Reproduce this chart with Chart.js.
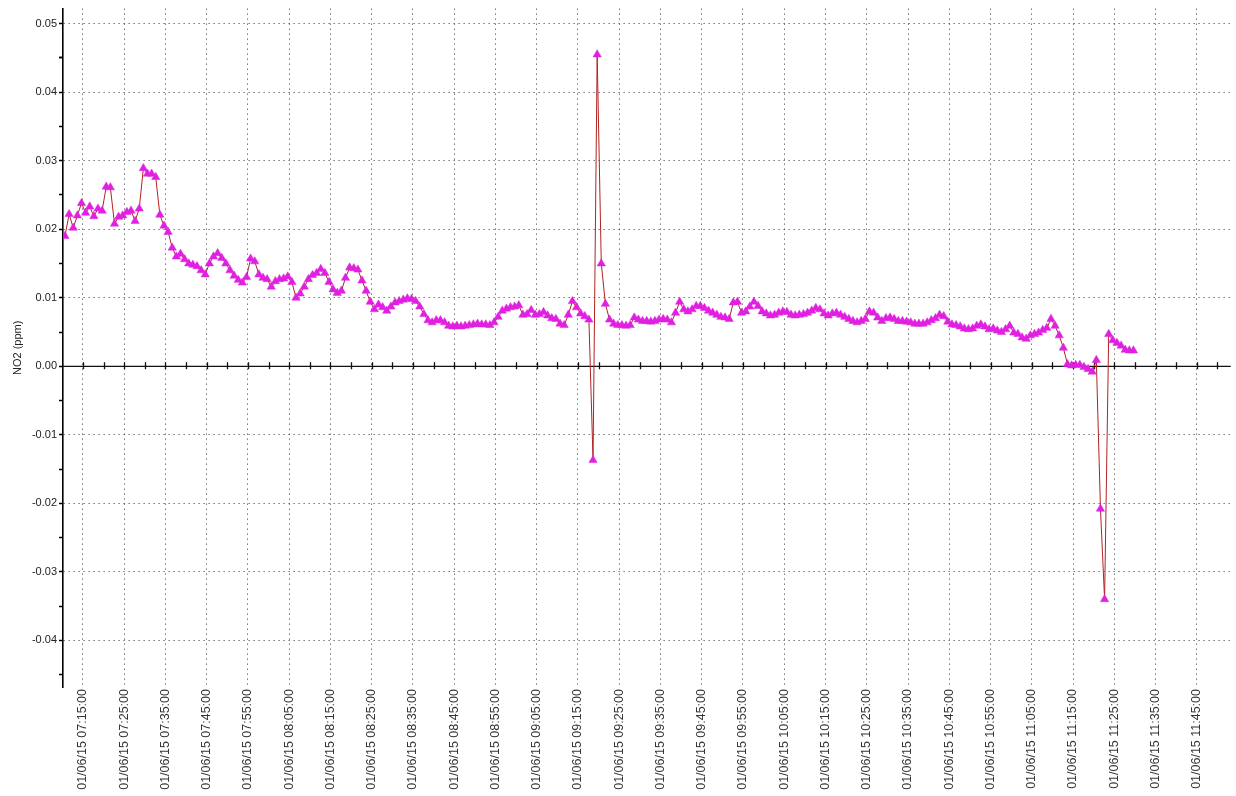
<!DOCTYPE html>
<html>
<head>
<meta charset="utf-8">
<title>NO2 (ppm)</title>
<script src="https://cdn.jsdelivr.net/npm/chart.js@4.4.1/dist/chart.umd.min.js"></script>
<style>
  html, body { margin: 0; padding: 0; background: #fff; }
  #wrap { width: 1236px; height: 796px; }
</style>
</head>
<body>
<div id="wrap"><canvas id="myChart" width="1236" height="796"></canvas></div>
<script>
// recording date + axis labels
const dateLabel = "01/06/15";
const xTickLabels = [
  "07:15", "07:25", "07:35", "07:45", "07:55", "08:05", "08:15", "08:25", "08:35",
  "08:45", "08:55", "09:05", "09:15", "09:25", "09:35", "09:45", "09:55", "10:05",
  "10:15", "10:25", "10:35", "10:45", "10:55", "11:05", "11:15", "11:25", "11:35", "11:45",
];
const yTickLabels = ["-0.04", "-0.03", "-0.02", "-0.01", "0.00", "0.01", "0.02", "0.03", "0.04", "0.05"];

// samples: first reading 07:10:39, one reading per minute
const firstSample = "07:10:39";
const sampleMinutes = 1;

// NO2 readings (ppm)
const no2 = [
  0.0190, 0.0222, 0.0202, 0.0220, 0.0238, 0.0224, 0.0233, 0.0219, 0.0230, 0.0227,
  0.0262, 0.0261, 0.0208, 0.0218, 0.0220, 0.0225, 0.0227, 0.0212, 0.0230, 0.0289,
  0.0281, 0.0281, 0.0276, 0.0221, 0.0205, 0.0196, 0.0173, 0.0160, 0.0164, 0.0156,
  0.0150, 0.0148, 0.0146, 0.0140, 0.0134, 0.0150, 0.0160, 0.0165, 0.0158, 0.0150,
  0.0140, 0.0132, 0.0126, 0.0122, 0.0130, 0.0157, 0.0153, 0.0134, 0.0129, 0.0127,
  0.0116, 0.0124, 0.0127, 0.0128, 0.0131, 0.0123, 0.0100, 0.0106, 0.0116, 0.0127,
  0.0133, 0.0136, 0.0142, 0.0136, 0.0123, 0.0112, 0.0107, 0.0110, 0.0129, 0.0144,
  0.0143, 0.0141, 0.0125, 0.0110, 0.0094, 0.0083, 0.0090, 0.0086, 0.0081, 0.0087,
  0.0093, 0.0095, 0.0097, 0.0099, 0.0098, 0.0095, 0.0087, 0.0076, 0.0067, 0.0064,
  0.0067, 0.0067, 0.0064, 0.0059, 0.0058, 0.0059, 0.0058, 0.0059, 0.0060, 0.0061,
  0.0062, 0.0061, 0.0061, 0.0060, 0.0064, 0.0072, 0.0081, 0.0084, 0.0086, 0.0087,
  0.0089, 0.0075, 0.0076, 0.0082, 0.0075, 0.0076, 0.0079, 0.0074, 0.0070, 0.0069,
  0.0062, 0.0060, 0.0075, 0.0095, 0.0086, 0.0077, 0.0073, 0.0068, -0.0137, 0.0455,
  0.0150, 0.0091, 0.0068, 0.0062, 0.0060, 0.0060, 0.0059, 0.0060, 0.0071, 0.0068,
  0.0066, 0.0066, 0.0065, 0.0066, 0.0068, 0.0069, 0.0068, 0.0064, 0.0078, 0.0094,
  0.0083, 0.0080, 0.0083, 0.0088, 0.0088, 0.0085, 0.0081, 0.0078, 0.0075, 0.0072,
  0.0071, 0.0069, 0.0093, 0.0094, 0.0078, 0.0080, 0.0087, 0.0094, 0.0088, 0.0080,
  0.0077, 0.0074, 0.0075, 0.0078, 0.0080, 0.0079, 0.0075, 0.0074, 0.0075, 0.0076,
  0.0078, 0.0081, 0.0085, 0.0083, 0.0077, 0.0074, 0.0077, 0.0078, 0.0075, 0.0072,
  0.0069, 0.0066, 0.0064, 0.0066, 0.0069, 0.0080, 0.0078, 0.0071, 0.0066, 0.0070,
  0.0071, 0.0069, 0.0066, 0.0066, 0.0065, 0.0064, 0.0062, 0.0062, 0.0062, 0.0064,
  0.0067, 0.0070, 0.0075, 0.0073, 0.0065, 0.0061, 0.0060, 0.0058, 0.0055, 0.0054,
  0.0055, 0.0059, 0.0061, 0.0058, 0.0054, 0.0055, 0.0052, 0.0050, 0.0054, 0.0059,
  0.0049, 0.0047, 0.0042, 0.0040, 0.0045, 0.0047, 0.0049, 0.0053, 0.0056, 0.0069,
  0.0059, 0.0045, 0.0027, 0.0003, 0.0001, 0.0002, 0.0002, -0.0001, -0.0004, -0.0008,
  0.0009, -0.0208, -0.0340, 0.0047, 0.0038, 0.0034, 0.0030, 0.0024, 0.0023, 0.0023,
];

function toMinutes(hhmm) {
  var p = hhmm.split(":").map(Number);
  return p[0] * 60 + p[1] + (p[2] || 0) / 60;
}

const start = toMinutes(firstSample);
const points = no2.map((v, i) => ({ x: start + i * sampleMinutes, y: v }));
const xTickValues = xTickLabels.map(toMinutes);
const yTickValues = yTickLabels.map(Number);

// half-way ticks (5 min / 0.005 ppm) without labels
const xMinor = [];
xTickValues.forEach((t) => { xMinor.push(t, t + 5); });
const yAll = [];
yTickValues.forEach((v) => { yAll.push(Math.round((v - 0.005) * 1000) / 1000, v); });
yAll.push(0.045);

function isMajor(v) {
  return Math.abs(v * 100 - Math.round(v * 100)) < 1e-6;
}

// horizontal axis drawn through zero, with a tick every 5 minutes
const zeroAxis = {
  id: "zeroAxis",
  beforeDatasetsDraw(chart) {
    const { ctx, chartArea, scales } = chart;
    const y0 = scales.y.getPixelForValue(0);
    ctx.save();
    ctx.strokeStyle = "#111";
    ctx.lineWidth = 1.3;
    ctx.beginPath();
    ctx.moveTo(chartArea.left, y0);
    ctx.lineTo(chartArea.right, y0);
    xMinor.forEach((t) => {
      const px = Math.round(scales.x.getPixelForValue(t)) + 0.5;
      if (px > chartArea.right) return;
      ctx.moveTo(px, y0 - 4);
      ctx.lineTo(px, y0 + 3);
    });
    ctx.stroke();
    ctx.restore();
  },
};

const font = { family: "'Liberation Sans', Arial, sans-serif", size: 11 };

new Chart(document.getElementById("myChart"), {
  type: "line",
  data: {
    datasets: [
      {
        label: "NO2 (ppm)",
        data: points,
        borderColor: "#b22222",
        borderWidth: 1,
        tension: 0,
        pointStyle: "triangle",
        pointRadius: 4.8,
        pointBackgroundColor: "#e020e0",
        pointBorderColor: "#e020e0",
        pointBorderWidth: 0.5,
      },
    ],
  },
  options: {
    responsive: false,
    animation: false,
    events: [],
    layout: { padding: { top: 2, right: 2, left: 0, bottom: 0 } },
    plugins: {
      legend: { display: false },
      tooltip: { enabled: false },
    },
    scales: {
      x: {
        type: "linear",
        min: 430.17,
        max: 713.22,
        afterBuildTicks: (scale) => {
          scale.ticks = xTickValues.map((v) => ({ value: v }));
        },
        afterFit: (scale) => {
          scale.height = 109;
        },
        grid: { color: "#333", lineWidth: 1, drawTicks: false },
        border: { display: false, dash: [1, 4] },
        ticks: {
          autoSkip: false,
          minRotation: 90,
          maxRotation: 90,
          padding: 2,
          color: "#333",
          font: { family: font.family, size: 12.5 },
          callback: (value, index) => dateLabel + " " + xTickLabels[index] + ":00",
        },
      },
      y: {
        min: -0.0468,
        max: 0.0522,
        afterBuildTicks: (scale) => {
          scale.ticks = yAll.map((v) => ({ value: v }));
        },
        afterFit: (scale) => {
          scale.width = 63;
        },
        grid: {
          color: (c) => (c.tick && isMajor(c.tick.value) ? "#333" : "rgba(0,0,0,0)"),
          lineWidth: 1,
          tickColor: "#000",
          tickWidth: 1.5,
          tickLength: 4,
        },
        border: { display: true, color: "#000", width: 1.6, dash: [1, 4] },
        title: {
          display: true,
          text: "NO2 (ppm)",
          color: "#222",
          font: font,
          padding: { top: 11, bottom: 0 },
        },
        ticks: {
          padding: 2,
          color: "#222",
          font: font,
          callback: (value) => {
            if (!isMajor(value)) return "";
            var i = yTickValues.findIndex((v) => Math.abs(v - value) < 1e-6);
            return yTickLabels[i];
          },
        },
      },
    },
  },
  plugins: [zeroAxis],
});
</script>
</body>
</html>
